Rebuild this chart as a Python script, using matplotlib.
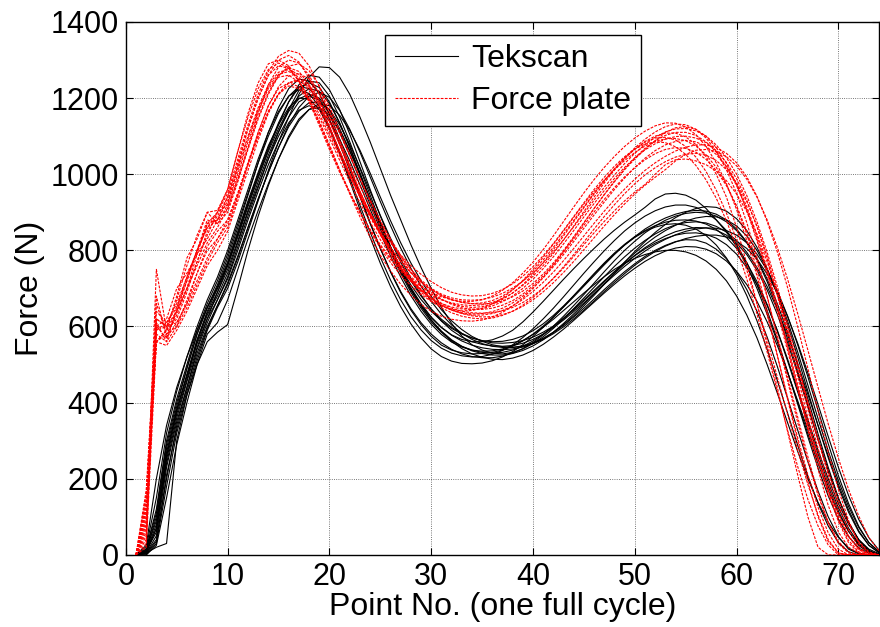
import matplotlib
matplotlib.use("Agg")
import matplotlib.pyplot as plt

plt.rcParams['font.family'] = ['Liberation Sans', 'DejaVu Sans']

# point number along the cycle
point_no = list(range(1, 75))

# Tekscan curves (N)
tek_01 = [0, 10, 60, 250, 370, 460, 560, 630, 680, 740, 820, 900, 970, 1040, 1100, 1150, 1190, 1205, 1195, 1160,
          1110, 1050, 985, 920, 855, 795, 740, 690, 648, 612, 585, 563, 548, 538, 532, 530, 532, 538, 548, 562,
          580, 600, 622, 646, 670, 695, 720, 744, 766, 786, 804, 819, 831, 840, 845, 846, 842, 832, 815, 790,
          755, 710, 655, 590, 515, 435, 355, 275, 200, 135, 80, 40, 15, 3]
tek_02 = [0, 5, 40, 200, 340, 440, 540, 610, 670, 730, 810, 890, 965, 1040, 1110, 1170, 1220, 1245, 1240, 1205,
          1150, 1085, 1015, 945, 875, 810, 752, 702, 660, 625, 598, 578, 566, 560, 560, 565, 575, 590, 612, 638,
          666, 695, 724, 752, 779, 805, 830, 853, 874, 893, 913, 935, 948, 950, 945, 932, 910, 880, 848, 810,
          760, 700, 632, 560, 480, 400, 318, 240, 170, 110, 62, 28, 8, 0]
tek_03 = [0, 5, 20, 30, 300, 420, 500, 560, 585, 605, 700, 800, 890, 970, 1040, 1100, 1145, 1170, 1175, 1155,
          1115, 1060, 1000, 935, 870, 810, 752, 700, 655, 617, 586, 561, 542, 528, 519, 514, 513, 517, 525, 537,
          553, 572, 593, 616, 640, 664, 688, 711, 733, 753, 771, 786, 798, 806, 810, 809, 803, 791, 772, 745,
          710, 666, 612, 550, 480, 405, 328, 252, 180, 115, 62, 25, 5, 0]
tek_04 = [0, 0, 30, 180, 320, 420, 510, 590, 650, 700, 770, 850, 930, 1010, 1085, 1150, 1210, 1255, 1282, 1280,
          1255, 1210, 1150, 1085, 1015, 945, 880, 815, 755, 700, 650, 608, 575, 552, 538, 530, 528, 532, 541, 555,
          573, 595, 620, 647, 675, 703, 731, 758, 783, 806, 826, 843, 857, 867, 873, 875, 872, 863, 848, 826,
          795, 755, 705, 645, 577, 502, 422, 340, 260, 185, 118, 63, 25, 5]
tek_05 = [0, 15, 120, 300, 410, 500, 590, 660, 720, 790, 870, 950, 1030, 1100, 1160, 1205, 1230, 1225, 1195, 1145,
          1080, 1010, 940, 870, 805, 745, 692, 647, 610, 580, 557, 540, 528, 521, 518, 518, 522, 530, 542, 558,
          578, 601, 627, 655, 684, 714, 744, 773, 800, 824, 846, 864, 879, 890, 897, 900, 898, 890, 875, 852,
          820, 778, 725, 660, 585, 500, 410, 318, 230, 150, 85, 38, 10, 0]
tek_06 = [0, 5, 50, 230, 350, 440, 530, 600, 655, 710, 780, 860, 935, 1005, 1070, 1125, 1165, 1188, 1190, 1170,
          1130, 1078, 1018, 955, 892, 832, 777, 727, 683, 645, 614, 590, 572, 560, 553, 549, 548, 550, 556, 566,
          580, 597, 617, 639, 662, 686, 711, 735, 758, 779, 798, 815, 829, 841, 850, 856, 859, 858, 852, 840,
          820, 790, 748, 694, 628, 552, 468, 380, 292, 208, 135, 75, 32, 8]
tek_07 = [0, 20, 150, 320, 430, 520, 600, 670, 730, 800, 880, 960, 1040, 1110, 1165, 1205, 1222, 1212, 1178, 1125,
          1060, 990, 918, 848, 782, 722, 670, 626, 591, 563, 543, 530, 523, 520, 521, 527, 537, 552, 571, 594,
          620, 648, 678, 709, 740, 770, 799, 826, 851, 872, 890, 904, 914, 919, 919, 913, 900, 880, 852, 815,
          768, 710, 642, 565, 482, 396, 310, 228, 155, 94, 48, 18, 4, 0]
tek_08 = [0, 8, 80, 260, 380, 470, 565, 640, 700, 765, 845, 925, 1000, 1070, 1135, 1190, 1228, 1240, 1228, 1190,
          1135, 1070, 1000, 930, 862, 800, 745, 697, 656, 623, 597, 577, 562, 551, 544, 540, 539, 541, 546, 555,
          568, 584, 603, 625, 648, 672, 697, 721, 744, 765, 784, 800, 813, 823, 828, 827, 819, 803, 778, 743,
          697, 640, 572, 495, 412, 328, 245, 168, 100, 48, 15, 3, 0, 0]
tek_09 = [0, 10, 100, 280, 390, 490, 580, 650, 705, 770, 850, 930, 1005, 1075, 1130, 1175, 1200, 1198, 1170, 1120,
          1055, 982, 907, 834, 766, 705, 652, 607, 570, 541, 521, 509, 503, 502, 504, 510, 520, 534, 552, 574,
          598, 624, 652, 681, 710, 739, 767, 793, 816, 836, 852, 865, 874, 879, 880, 877, 869, 855, 834, 805,
          767, 718, 658, 588, 510, 428, 345, 265, 190, 124, 70, 30, 8, 0]
tek_10 = [0, 5, 70, 240, 360, 455, 545, 620, 690, 760, 840, 920, 995, 1065, 1130, 1190, 1235, 1260, 1255, 1222,
          1170, 1105, 1033, 960, 890, 826, 769, 720, 680, 646, 619, 598, 582, 570, 562, 557, 556, 558, 563, 572,
          585, 601, 621, 643, 667, 692, 718, 744, 769, 793, 815, 835, 852, 866, 877, 885, 889, 888, 880, 864,
          838, 800, 750, 688, 615, 533, 446, 358, 273, 195, 127, 72, 32, 8]
tek_11 = [0, 12, 90, 270, 380, 470, 555, 620, 670, 725, 800, 880, 955, 1025, 1085, 1135, 1168, 1180, 1170, 1140,
          1092, 1035, 972, 908, 845, 785, 730, 681, 640, 606, 579, 559, 546, 538, 535, 536, 541, 550, 563, 579,
          598, 619, 642, 665, 688, 710, 731, 750, 766, 779, 789, 796, 800, 800, 796, 787, 772, 750, 720, 680,
          630, 570, 500, 425, 348, 272, 200, 138, 86, 46, 18, 4, 0, 0]
tek_12 = [0, 3, 35, 210, 330, 430, 520, 595, 655, 715, 785, 860, 935, 1005, 1070, 1130, 1175, 1205, 1215, 1202,
          1168, 1118, 1058, 993, 928, 865, 806, 753, 706, 666, 632, 604, 582, 566, 555, 548, 545, 545, 549, 557,
          569, 585, 605, 628, 654, 682, 711, 740, 769, 797, 823, 847, 868, 886, 900, 910, 915, 913, 903, 883,
          852, 808, 752, 684, 606, 520, 430, 340, 255, 178, 112, 60, 25, 6]
tek_13 = [0, 25, 200, 340, 440, 520, 590, 650, 700, 760, 835, 915, 990, 1060, 1120, 1170, 1205, 1225, 1218, 1186,
          1135, 1073, 1004, 934, 866, 803, 746, 696, 653, 617, 588, 565, 548, 536, 529, 525, 525, 529, 537, 549,
          565, 585, 608, 633, 659, 686, 713, 739, 764, 787, 807, 824, 838, 849, 856, 860, 859, 853, 840, 819,
          789, 748, 696, 632, 558, 476, 390, 303, 220, 146, 85, 40, 12, 0]
tek_14 = [0, 0, 25, 150, 290, 400, 500, 580, 610, 670, 750, 830, 905, 975, 1040, 1095, 1140, 1170, 1185, 1180,
          1155, 1115, 1063, 1003, 940, 878, 820, 767, 720, 679, 644, 615, 592, 574, 561, 552, 547, 545, 548, 555,
          566, 581, 599, 620, 643, 667, 692, 716, 739, 761, 780, 797, 811, 822, 831, 837, 840, 840, 835, 824,
          805, 777, 738, 688, 627, 556, 478, 395, 311, 230, 156, 93, 45, 12]
tek_15 = [0, 15, 110, 290, 400, 490, 580, 650, 710, 780, 860, 945, 1030, 1110, 1175, 1225, 1250, 1245, 1212, 1158,
          1092, 1020, 946, 873, 805, 743, 689, 643, 605, 574, 551, 538, 531, 528, 529, 532, 538, 548, 562, 580,
          601, 625, 651, 678, 706, 734, 762, 789, 814, 836, 856, 872, 885, 895, 902, 905, 903, 895, 880, 856,
          822, 776, 718, 648, 568, 482, 393, 305, 222, 147, 85, 38, 10, 0]
tek_16 = [0, 8, 70, 260, 380, 475, 565, 635, 690, 750, 825, 905, 980, 1050, 1112, 1165, 1198, 1210, 1200, 1168,
          1120, 1062, 998, 932, 868, 808, 755, 709, 671, 640, 615, 595, 580, 570, 563, 560, 561, 566, 575, 589,
          607, 629, 654, 681, 709, 737, 765, 791, 814, 834, 850, 861, 868, 870, 866, 856, 839, 814, 780, 736,
          681, 615, 540, 458, 373, 288, 207, 135, 76, 32, 8, 0, 0, 0]

# Force plate curves (N)
fp_01 = [0, 120, 560, 590, 640, 700, 760, 820, 860, 910, 990, 1070, 1150, 1215, 1260, 1280, 1270, 1235, 1180, 1120,
         1060, 1000, 945, 892, 845, 800, 760, 725, 695, 672, 655, 643, 636, 633, 634, 639, 648, 662, 680, 702,
         728, 757, 789, 823, 858, 893, 927, 960, 990, 1018, 1042, 1062, 1077, 1086, 1089, 1085, 1073, 1052, 1020, 975,
         915, 840, 752, 655, 550, 440, 330, 225, 130, 60, 20, 5, 0, 0]
fp_02 = [0, 60, 750, 590, 620, 690, 770, 850, 890, 940, 1030, 1120, 1200, 1260, 1300, 1312, 1295, 1252, 1192, 1125,
         1060, 998, 940, 887, 840, 798, 762, 731, 706, 686, 671, 660, 653, 650, 652, 659, 671, 688, 710, 737,
         768, 802, 838, 875, 912, 948, 982, 1014, 1043, 1069, 1092, 1111, 1125, 1132, 1130, 1118, 1095, 1060, 1012, 950,
         873, 782, 680, 570, 458, 348, 246, 156, 85, 35, 8, 0, 0, 0]
fp_03 = [0, 150, 600, 570, 610, 660, 720, 780, 830, 880, 950, 1030, 1100, 1165, 1210, 1240, 1250, 1235, 1195, 1140,
         1078, 1015, 953, 895, 842, 795, 754, 719, 690, 667, 649, 636, 627, 622, 620, 622, 629, 640, 656, 676,
         700, 727, 757, 789, 822, 856, 889, 920, 949, 975, 998, 1017, 1033, 1045, 1052, 1055, 1050, 1036, 1012, 977,
         928, 864, 785, 693, 592, 487, 382, 280, 188, 110, 50, 15, 2, 0]
fp_04 = [0, 170, 620, 600, 670, 760, 840, 900, 905, 960, 1060, 1150, 1225, 1275, 1292, 1280, 1245, 1195, 1135, 1072,
         1010, 952, 898, 850, 806, 768, 735, 707, 684, 666, 653, 645, 641, 642, 648, 659, 675, 696, 721, 750,
         782, 816, 851, 887, 922, 955, 985, 1012, 1036, 1057, 1074, 1086, 1093, 1094, 1088, 1074, 1051, 1018, 973, 915,
         843, 748, 640, 525, 410, 298, 192, 100, 35, 5, 0, 0, 0, 0]
fp_05 = [0, 80, 580, 560, 650, 730, 800, 860, 880, 930, 1010, 1095, 1170, 1230, 1262, 1270, 1255, 1220, 1170, 1112,
         1052, 994, 940, 890, 846, 806, 772, 742, 717, 697, 681, 670, 663, 660, 662, 668, 680, 697, 719, 745,
         775, 808, 843, 879, 915, 950, 983, 1014, 1042, 1066, 1086, 1100, 1108, 1108, 1098, 1078, 1046, 1000, 940, 860,
         765, 660, 550, 440, 325, 210, 100, 20, 0, 0, 0, 0, 0, 0]
fp_06 = [0, 30, 640, 610, 650, 720, 800, 880, 870, 900, 980, 1070, 1160, 1235, 1282, 1300, 1292, 1260, 1210, 1150,
         1088, 1027, 969, 915, 866, 822, 783, 750, 722, 700, 685, 675, 670, 669, 671, 677, 687, 701, 719, 741,
         767, 796, 828, 862, 897, 932, 966, 998, 1028, 1055, 1078, 1097, 1111, 1119, 1120, 1114, 1100, 1077, 1044, 1000,
         944, 875, 795, 705, 607, 505, 402, 302, 210, 130, 65, 20, 3, 0]
fp_07 = [0, 100, 560, 550, 590, 640, 700, 760, 800, 850, 930, 1010, 1090, 1160, 1210, 1232, 1225, 1192, 1140, 1078,
         1012, 948, 888, 834, 787, 746, 711, 682, 658, 640, 627, 619, 615, 614, 617, 625, 637, 654, 675, 700,
         729, 761, 795, 830, 866, 901, 934, 965, 993, 1017, 1038, 1054, 1065, 1070, 1068, 1058, 1039, 1010, 970, 917,
         850, 770, 678, 577, 470, 362, 258, 163, 85, 30, 5, 0, 0, 0]
fp_08 = [0, 140, 660, 580, 630, 700, 790, 870, 900, 950, 1040, 1130, 1210, 1270, 1310, 1325, 1318, 1285, 1230, 1162,
         1090, 1020, 955, 895, 842, 795, 755, 722, 695, 675, 660, 651, 646, 645, 647, 654, 665, 680, 700, 724,
         752, 783, 817, 852, 888, 923, 957, 989, 1018, 1043, 1064, 1080, 1092, 1099, 1100, 1095, 1083, 1062, 1031, 988,
         932, 862, 778, 682, 577, 468, 360, 258, 167, 92, 38, 8, 0, 0]
fp_09 = [0, 40, 590, 600, 610, 660, 740, 810, 850, 880, 950, 1030, 1110, 1180, 1230, 1258, 1265, 1250, 1215, 1165,
         1108, 1048, 988, 930, 876, 826, 781, 742, 709, 682, 661, 648, 640, 636, 635, 636, 641, 650, 663, 680,
         701, 726, 754, 784, 815, 846, 876, 904, 930, 953, 973, 1000, 1025, 1038, 1040, 1035, 1025, 1008, 983, 948,
         902, 843, 770, 685, 592, 495, 398, 305, 220, 145, 82, 35, 8, 0]
fp_10 = [0, 160, 560, 590, 680, 780, 830, 900, 870, 920, 1020, 1120, 1200, 1260, 1285, 1278, 1245, 1195, 1135, 1072,
         1010, 952, 900, 853, 812, 776, 745, 719, 698, 682, 670, 662, 657, 655, 657, 663, 673, 688, 708, 732,
         760, 792, 827, 864, 902, 940, 977, 1011, 1041, 1066, 1084, 1095, 1097, 1090, 1073, 1045, 1007, 958, 898, 828,
         748, 660, 565, 467, 370, 275, 185, 105, 40, 5, 0, 0, 0, 0]
fp_11 = [0, 50, 610, 560, 600, 670, 740, 800, 830, 870, 945, 1025, 1100, 1165, 1212, 1240, 1245, 1228, 1190, 1138,
         1078, 1016, 955, 898, 846, 800, 760, 726, 698, 675, 657, 644, 635, 630, 630, 634, 642, 654, 671, 692,
         716, 743, 773, 805, 838, 871, 903, 933, 961, 987, 1010, 1030, 1047, 1061, 1071, 1077, 1077, 1070, 1055, 1030,
         993, 942, 876, 796, 703, 600, 490, 378, 270, 172, 90, 30, 5, 0]
fp_12 = [0, 110, 600, 620, 700, 740, 790, 830, 880, 940, 1020, 1100, 1175, 1235, 1268, 1275, 1262, 1230, 1182, 1124,
         1062, 1002, 946, 895, 849, 808, 772, 741, 716, 697, 682, 671, 664, 660, 659, 661, 667, 678, 693, 713,
         738, 767, 800, 836, 873, 910, 946, 980, 1012, 1040, 1065, 1088, 1110, 1122, 1125, 1118, 1100, 1070, 1028, 973,
         905, 825, 735, 638, 537, 435, 337, 245, 160, 88, 32, 5, 0, 0]
fp_13 = [0, 90, 680, 570, 640, 720, 800, 860, 900, 960, 1060, 1160, 1240, 1290, 1300, 1285, 1245, 1190, 1128, 1065,
         1005, 950, 900, 855, 815, 780, 750, 725, 705, 690, 678, 670, 666, 666, 670, 680, 695, 715, 740, 769,
         802, 838, 876, 914, 951, 986, 1018, 1047, 1073, 1095, 1113, 1127, 1135, 1134, 1124, 1104, 1073, 1030, 975, 907,
         826, 733, 631, 523, 414, 308, 210, 125, 58, 15, 0, 0, 0, 0]
fp_14 = [0, 20, 560, 580, 600, 650, 710, 770, 820, 860, 940, 1025, 1110, 1180, 1225, 1240, 1230, 1198, 1150, 1095,
         1037, 980, 925, 874, 828, 787, 751, 720, 694, 673, 656, 643, 634, 628, 625, 626, 631, 640, 653, 670,
         691, 715, 742, 771, 802, 833, 864, 894, 922, 948, 971, 992, 1012, 1035, 1052, 1063, 1065, 1060, 1046, 1022,
         987, 940, 880, 808, 725, 634, 538, 440, 344, 254, 172, 102, 45, 10]
fp_15 = [0, 130, 590, 610, 660, 730, 800, 870, 880, 910, 985, 1065, 1145, 1210, 1258, 1284, 1290, 1272, 1232, 1178,
         1116, 1052, 990, 932, 878, 830, 787, 750, 718, 692, 672, 658, 649, 645, 645, 648, 656, 668, 685, 707,
         733, 763, 797, 834, 872, 910, 947, 982, 1014, 1043, 1068, 1088, 1102, 1110, 1110, 1102, 1085, 1058, 1020, 970,
         907, 832, 745, 650, 549, 447, 347, 254, 171, 102, 48, 14, 0, 0]
fp_16 = [0, 70, 620, 600, 640, 700, 770, 840, 900, 920, 1000, 1085, 1165, 1225, 1255, 1260, 1242, 1206, 1158, 1104,
         1048, 994, 944, 898, 857, 820, 788, 760, 737, 718, 702, 690, 683, 680, 681, 687, 697, 712, 732, 757,
         786, 818, 853, 889, 925, 960, 992, 1021, 1046, 1066, 1079, 1085, 1083, 1072, 1052, 1023, 985, 937, 878, 807,
         725, 633, 533, 430, 328, 232, 146, 76, 26, 0, 0, 0, 0, 0]

tekscan = [tek_01, tek_02, tek_03, tek_04, tek_05, tek_06, tek_07, tek_08,
           tek_09, tek_10, tek_11, tek_12, tek_13, tek_14, tek_15, tek_16]
force_plate = [fp_01, fp_02, fp_03, fp_04, fp_05, fp_06, fp_07, fp_08,
               fp_09, fp_10, fp_11, fp_12, fp_13, fp_14, fp_15, fp_16]

for c in tekscan + force_plate:
    assert len(c) == len(point_no), len(c)


fig = plt.figure(figsize=(8.8, 6.27), dpi=100)
ax = fig.add_axes([0.143, 0.115, 0.856, 0.85])

for i, c in enumerate(tekscan):
    ax.plot(point_no, c, color='black', lw=0.8, label='Tekscan' if i == 0 else None, zorder=3)
for i, c in enumerate(force_plate):
    ax.plot(point_no, c, color='red', lw=0.8, linestyle=(0, (2.5, 1.2)),
            label='Force plate' if i == 0 else None, zorder=3)

ax.set_xlim(0, 74)
ax.set_ylim(0, 1400)
ax.set_xticks(range(0, 71, 10))
ax.set_yticks(range(0, 1401, 200))
ax.grid(True, color='black', linestyle=':', lw=0.6, alpha=0.7)
ax.tick_params(direction='in', top=True, right=True, labelsize=22, length=5, pad=5)
for s in ax.spines.values():
    s.set_linewidth(1.0)
ax.set_xlabel('Point No. (one full cycle)', fontsize=23, labelpad=0)
ax.set_ylabel('Force (N)', fontsize=23, labelpad=4)

leg = ax.legend(loc='upper left', bbox_to_anchor=(0.344, 0.976), fontsize=23, fancybox=False,
                framealpha=1, edgecolor='black', borderaxespad=0, handlelength=2.0,
                borderpad=0.3, labelspacing=0.38, handletextpad=0.4)
leg.get_frame().set_linewidth(1.0)

fig.savefig('out.png', dpi=100)
